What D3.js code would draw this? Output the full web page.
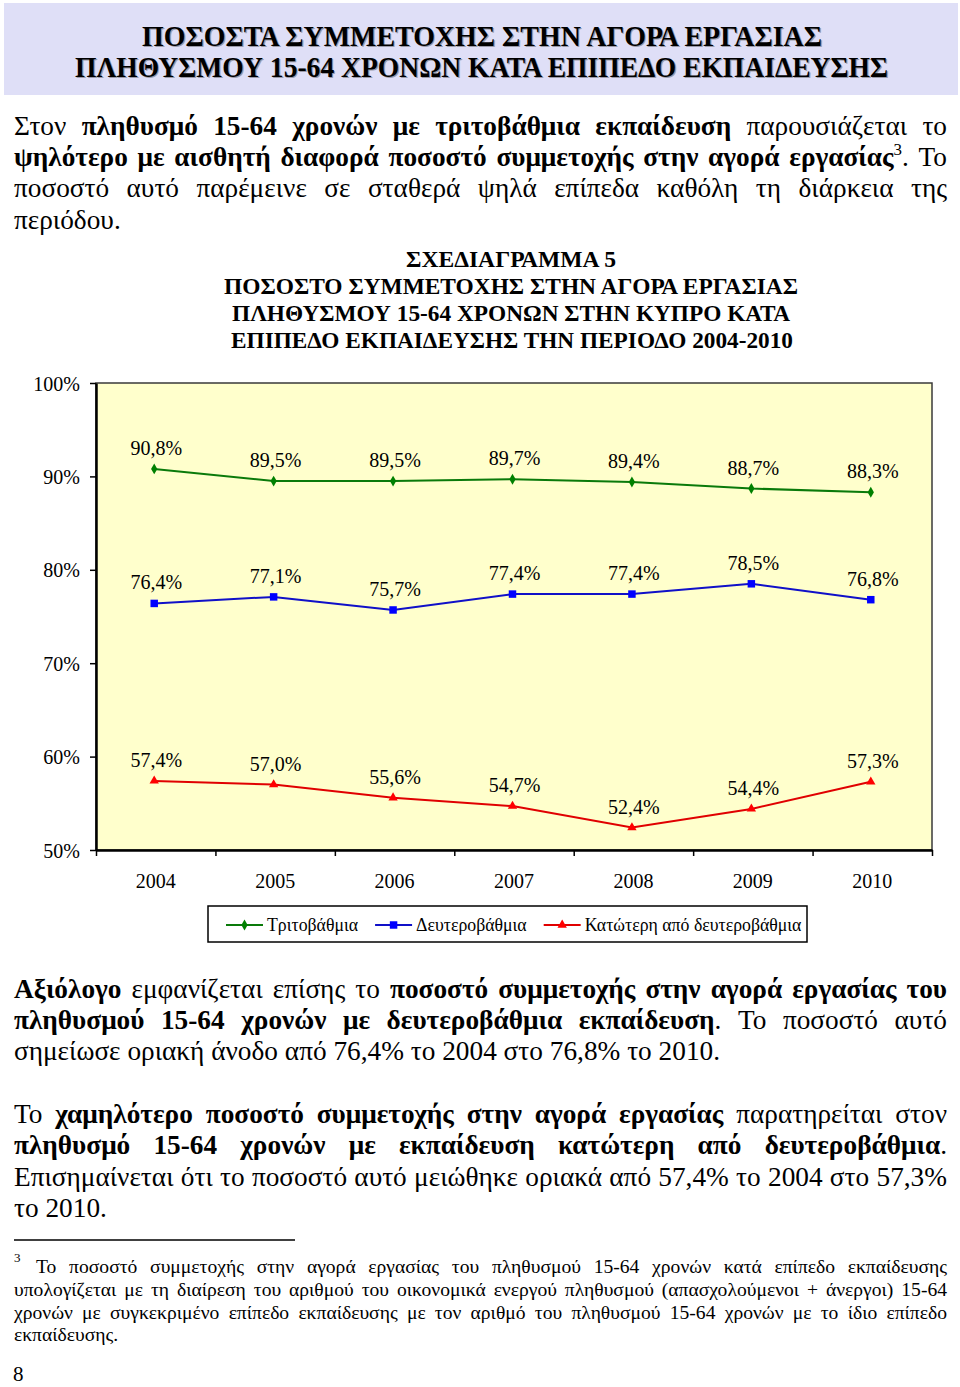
<!DOCTYPE html>
<html><head><meta charset="utf-8">
<script src="https://cdn.jsdelivr.net/npm/d3@7"></script>
<style>
body{margin:0;background:#fff}
svg{display:block}
text{font-family:"Liberation Serif","Times New Roman",serif;fill:#000}
</style>
</head><body><div id="c"></div>
<script>
// ---------- DATA ----------
const years = ["2004","2005","2006","2007","2008","2009","2010"];
const tertiary = [90.8, 89.5, 89.5, 89.7, 89.4, 88.7, 88.3];
const secondary = [76.4, 77.1, 75.7, 77.4, 77.4, 78.5, 76.8];
const lowerSec = [57.4, 57.0, 55.6, 54.7, 52.4, 54.4, 57.3];
const seriesNames = ["Τριτοβάθμια", "Δευτεροβάθμια", "Κατώτερη από δευτεροβάθμια"];
const yTicks = [50, 60, 70, 80, 90, 100];

const headerLines = [
  "ΠΟΣΟΣΤΑ ΣΥΜΜΕΤΟΧΗΣ ΣΤΗΝ ΑΓΟΡΑ ΕΡΓΑΣΙΑΣ",
  "ΠΛΗΘΥΣΜΟΥ 15-64 ΧΡΟΝΩΝ ΚΑΤΑ ΕΠΙΠΕΔΟ ΕΚΠΑΙΔΕΥΣΗΣ"
];
const chartTitleLines = [
  "ΣΧΕΔΙΑΓΡΑΜΜΑ 5",
  "ΠΟΣΟΣΤΟ ΣΥΜΜΕΤΟΧΗΣ ΣΤΗΝ ΑΓΟΡΑ ΕΡΓΑΣΙΑΣ",
  "ΠΛΗΘΥΣΜΟΥ 15-64 ΧΡΟΝΩΝ ΣΤΗΝ ΚΥΠΡΟ ΚΑΤΑ",
  "ΕΠΙΠΕΔΟ ΕΚΠΑΙΔΕΥΣΗΣ ΤΗΝ ΠΕΡΙΟΔΟ 2004-2010"
];
const para1 = [
  "Στον **πληθυσμό 15-64 χρονών με τριτοβάθμια εκπαίδευση** παρουσιάζεται το",
  "**ψηλότερο με αισθητή διαφορά ποσοστό συμμετοχής στην αγορά εργασίας**^3^. Το",
  "ποσοστό αυτό παρέμεινε σε σταθερά ψηλά επίπεδα καθόλη τη διάρκεια της",
  "περιόδου."
];
const para2 = [
  "**Αξιόλογο** εμφανίζεται επίσης το **ποσοστό συμμετοχής στην αγορά εργασίας του**",
  "**πληθυσμού 15-64 χρονών με δευτεροβάθμια εκπαίδευση**. Το ποσοστό αυτό",
  "σημείωσε οριακή άνοδο από 76,4% το 2004 στο 76,8% το 2010."
];
const para3 = [
  "Το **χαμηλότερο ποσοστό συμμετοχής στην αγορά εργασίας** παρατηρείται στον",
  "**πληθυσμό 15-64 χρονών με εκπαίδευση κατώτερη από δευτεροβάθμια**.",
  "Επισημαίνεται ότι το ποσοστό αυτό μειώθηκε οριακά από 57,4% το 2004 στο 57,3%",
  "το 2010."
];
const footnote = [
  "Το ποσοστό συμμετοχής στην αγορά εργασίας του πληθυσμού 15-64 χρονών κατά επίπεδο εκπαίδευσης",
  "υπολογίζεται με τη διαίρεση του αριθμού του οικονομικά ενεργού πληθυσμού (απασχολούμενοι + άνεργοι) 15-64",
  "χρονών με συγκεκριμένο επίπεδο εκπαίδευσης με τον αριθμό του πληθυσμού 15-64 χρονών με το ίδιο επίπεδο",
  "εκπαίδευσης."
];
const footnoteMark = "3";
const pageNumber = "8";

// ---------- SETUP ----------
const W = 960, H = 1387;
const svg = d3.select("#c").append("svg").attr("width", W).attr("height", H);
svg.append("rect").attr("width", W).attr("height", H).attr("fill", "#fff");

// ---------- HEADER ----------
svg.append("rect").attr("x", 4).attr("y", 3).attr("width", 954).attr("height", 92).attr("fill", "#DFDFF7");
const headerSpec = [{x0:142, x1:822, base:46}, {x0:75, x1:888, base:77}];
headerLines.forEach((s, i) => {
  const sp = headerSpec[i];
  [["#9a9aa8", 1.2], ["#000", 0]].forEach(([col, off]) => {
    svg.append("text").attr("x", sp.x0 + off).attr("y", sp.base + off)
      .attr("font-size", 30).attr("font-weight", "bold").style("fill", col)
      .attr("textLength", sp.x1 - sp.x0).attr("lengthAdjust", "spacingAndGlyphs").text(s);
  });
});

// ---------- RICH TEXT ----------
function parseLine(str){
  const words=[]; let cur=[]; let bold=false, sup=false; let buf='';
  const flush=()=>{ if(buf){cur.push({t:buf,b:bold,s:sup}); buf='';} };
  for(let i=0;i<str.length;i++){
    if(str.startsWith('**',i)){flush(); bold=!bold; i++; continue;}
    const c=str[i];
    if(c==='^'){flush(); sup=!sup; continue;}
    if(c===' '){flush(); if(cur.length){words.push(cur); cur=[];} continue;}
    buf+=c;
  }
  flush(); if(cur.length) words.push(cur);
  return words;
}
function spaceWidth(fs){
  const a = svg.append("text").attr("font-size", fs).text("a a");
  const b = svg.append("text").attr("font-size", fs).text("aa");
  const w = a.node().getComputedTextLength() - b.node().getComputedTextLength();
  a.remove(); b.remove();
  return w;
}
function drawLine(str, x0, x1, base, fs, justify){
  const words = parseLine(str);
  const t = svg.append("text").attr("font-size", fs).attr("y", base);
  const info = words.map(w => {
    const els = w.map(seg => t.append("tspan").text(seg.t)
      .attr("font-weight", seg.b ? "bold" : null)
      .attr("font-size", seg.s ? fs*0.62 : null)
      .attr("y", seg.s ? base - fs*0.4 : base));
    return {els, w: 0};
  });
  info.forEach(o => { o.w = d3.sum(o.els, e => e.node().getComputedTextLength()); });
  const total = d3.sum(info, o => o.w);
  const gap = (justify && info.length > 1) ? (x1 - x0 - total) / (info.length - 1) : spaceWidth(fs);
  let cx = x0;
  info.forEach(o => { o.els[0].attr("x", cx); cx += o.w + gap; });
}
function drawPara(lines, bases, fs, x0, x1){
  lines.forEach((l, i) => drawLine(l, x0, x1, bases[i], fs, i < lines.length - 1));
}
const PFS = 27.3;
drawPara(para1, [135, 166, 197, 229], PFS, 14, 947);

// ---------- CHART TITLE ----------
const ctSpec = [{x0:406,x1:616,b:267},{x0:224,x1:798,b:294},{x0:232,x1:790,b:321},{x0:231,x1:793,b:348}];
chartTitleLines.forEach((s, i) => {
  const sp = ctSpec[i];
  svg.append("text").attr("x", sp.x0).attr("y", sp.b).attr("font-size", 24).attr("font-weight", "bold")
    .attr("textLength", sp.x1 - sp.x0).attr("lengthAdjust", "spacingAndGlyphs").text(s);
});

// ---------- CHART ----------
const plot = {l:96, r:932, t:383, b:850};
const x = d3.scaleBand().domain(years).range([plot.l, plot.r]);
const y = d3.scaleLinear().domain([50, 100]).range([plot.b, plot.t]);
svg.append("rect").attr("x", plot.l).attr("y", plot.t).attr("width", plot.r - plot.l).attr("height", plot.b - plot.t)
  .attr("fill", "#FFFFCC").attr("stroke", "#3a3a3a").attr("stroke-width", 1.5);

const ya = svg.append("g").attr("transform", `translate(${plot.l},0)`)
  .call(d3.axisLeft(y).tickValues(yTicks).tickSize(6).tickPadding(10).tickSizeOuter(0).tickFormat(d => d + "%"));
ya.attr("font-family", '"Liberation Serif",serif').attr("font-size", 20);
ya.select(".domain").attr("stroke", "#000").attr("stroke-width", 2.5);
ya.selectAll(".tick line").attr("stroke-width", 1.5);
ya.selectAll(".tick text").attr("dy", "0.35em");

const xb = d3.scaleLinear().domain([0, years.length]).range([plot.l, plot.r]);
const xa = svg.append("g").attr("transform", `translate(0,${plot.b})`)
  .call(d3.axisBottom(xb).ticks(years.length).tickSize(6).tickSizeOuter(0).tickFormat(""));
xa.select(".domain").attr("stroke", "#000").attr("stroke-width", 2.5);
xa.selectAll(".tick line").attr("stroke-width", 1.5);

const xl = svg.append("g").attr("transform", `translate(0,${plot.b})`)
  .call(d3.axisBottom(x).tickSize(0).tickPadding(24));
xl.select(".domain").remove();
xl.attr("font-family", '"Liberation Serif",serif').attr("font-size", 20);

const series = [
  {name: seriesNames[0], vals: tertiary, color: "#008000", line: "#0a7a0a", sym: d3.symbolDiamond, size: 34},
  {name: seriesNames[1], vals: secondary, color: "#0000FF", line: "#1010C8", sym: d3.symbolSquare, size: 56},
  {name: seriesNames[2], vals: lowerSec, color: "#FF0000", line: "#E00000", sym: d3.symbolTriangle, size: 38}
];
const fmt = v => v.toFixed(1).replace(".", ",") + "%";
const cxOf = yr => x(yr) + x.bandwidth() / 2 - 1.5;
const lineGen = d3.line().x(d => cxOf(d.yr)).y(d => y(d.v));
series.forEach(s => {
  const pts = years.map((yr, i) => ({yr, v: s.vals[i]}));
  svg.append("path").datum(pts).attr("d", lineGen).attr("fill", "none").attr("stroke", s.line).attr("stroke-width", 2);
  svg.append("g").selectAll("path").data(pts).join("path")
    .attr("transform", d => `translate(${cxOf(d.yr)},${y(d.v)})`)
    .attr("d", d3.symbol(s.sym, s.size)).attr("fill", s.color);
  svg.append("g").selectAll("text").data(pts).join("text")
    .attr("x", d => cxOf(d.yr) + 2).attr("y", d => y(d.v) - 14)
    .attr("text-anchor", "middle").attr("font-size", 20).text(d => fmt(d.v));
});

// ---------- LEGEND ----------
const lg = svg.append("g");
lg.append("rect").attr("x", 208).attr("y", 906).attr("width", 599).attr("height", 36)
  .attr("fill", "#fff").attr("stroke", "#000").attr("stroke-width", 1.5);
let lx = 226;
series.forEach(s => {
  lg.append("line").attr("x1", lx).attr("x2", lx + 37).attr("y1", 925).attr("y2", 925)
    .attr("stroke", s.line).attr("stroke-width", 2);
  lg.append("path").attr("transform", `translate(${lx + 18.5},925)`).attr("d", d3.symbol(s.sym, s.size)).attr("fill", s.color);
  const t = lg.append("text").attr("x", lx + 41).attr("y", 931).attr("font-size", 17.8).text(s.name);
  lx += 41 + t.node().getComputedTextLength() + 17;
});

// ---------- PARAGRAPHS ----------
drawPara(para2, [998, 1029, 1060], PFS, 14, 947);
drawPara(para3, [1123, 1154, 1186, 1217], PFS, 14, 947);

// ---------- FOOTNOTE ----------
svg.append("line").attr("x1", 14).attr("x2", 295).attr("y1", 1240).attr("y2", 1240).attr("stroke", "#000").attr("stroke-width", 1.5);
svg.append("text").attr("x", 14).attr("y", 1262).attr("font-size", 13).text(footnoteMark);
const FFS = 19.6;
footnote.forEach((l, i) => {
  const bases = [1273, 1296, 1319, 1341];
  drawLine(l, i === 0 ? 36 : 14, 947, bases[i], FFS, i < footnote.length - 1);
});
svg.append("text").attr("x", 13).attr("y", 1381).attr("font-size", 21).text(pageNumber);
</script>
</body></html>
